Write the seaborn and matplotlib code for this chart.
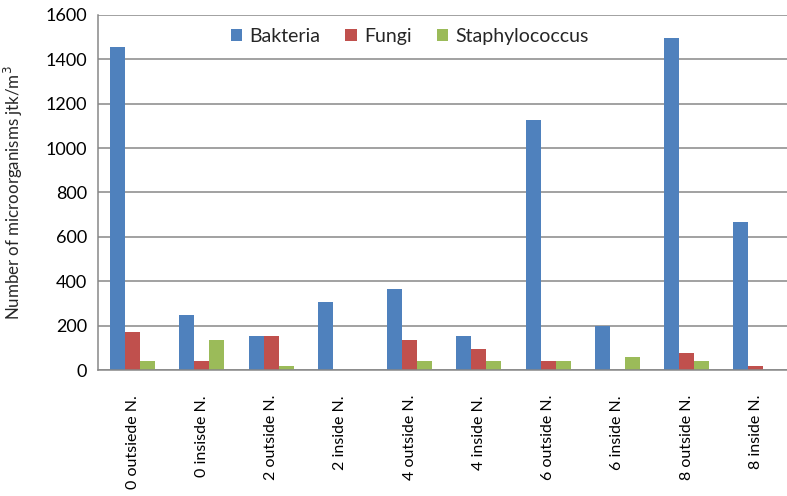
import matplotlib
matplotlib.use("Agg")
import matplotlib.pyplot as plt
import seaborn as sns
import pandas as pd

categories = ["0 outsiede N.", "0 insisde N.", "2 outside N.", "2 inside N.",
              "4 outside N.", "4 inside N.", "6 outside N.", "6 inside N.",
              "8 outside N.", "8 inside N."]
bakteria = [1455, 248, 153, 306, 364, 153, 1125, 200, 1495, 665]
fungi = [172, 40, 153, 0, 134, 96, 40, 0, 77, 20]
staphylococcus = [40, 134, 20, 0, 40, 40, 40, 60, 40, 0]
series_names = ["Bakteria", "Fungi", "Staphylococcus"]
colors = ["#4F81BD", "#C0504D", "#9BBB59"]
y_ticks = [0, 200, 400, 600, 800, 1000, 1200, 1400, 1600]

df = pd.DataFrame({
    "category": categories * 3,
    "value": bakteria + fungi + staphylococcus,
    "series": [s for s in series_names for _ in categories],
})

sns.set_theme(style="white")
plt.rcParams["font.family"] = ["Lato", "DejaVu Sans"]

fig = plt.figure(figsize=(7.87, 4.96), dpi=100)
ax = fig.add_axes([0.1245, 0.254, 0.88, 0.716])

sns.barplot(data=df, x="category", y="value", hue="series",
            palette=colors, width=0.65, saturation=1, ax=ax,
            edgecolor="none", linewidth=0, legend=True)

ax.set_ylim(0, 1600)
ax.set_xlim(-0.5, 9.5)
ax.set_yticks(y_ticks)
ax.set_yticklabels([str(t) for t in y_ticks], fontsize=13)
ax.yaxis.grid(True, color="#878787", linewidth=1.1)
ax.set_axisbelow(True)

# category boundary ticks on the x axis
ax.set_xticks([i for i in range(10)])
ax.set_xticklabels(categories, rotation=90, fontsize=11.5, va="top")
ax.tick_params(axis="x", length=0, pad=18)
ax.set_xticks([i - 0.5 for i in range(11)], minor=True)
ax.tick_params(axis="x", which="minor", length=5, color="#878787", width=1, direction="out")
ax.tick_params(axis="y", length=5, color="#878787", width=1, direction="out", pad=3)
ax.tick_params(axis="both", labelcolor="black")

for side in ["top", "right"]:
    ax.spines[side].set_visible(False)
for side in ["left", "bottom"]:
    ax.spines[side].set_color("#878787")
    ax.spines[side].set_linewidth(1.1)

ax.set_xlabel("")
ax.set_ylabel("Number of microorganisms jtk/m$^3$", fontsize=12.2)
ax.yaxis.set_label_coords(-0.105, 0.5)

leg = ax.legend(loc="upper center", bbox_to_anchor=(0.45, 0.985), ncol=3,
                frameon=True, fontsize=14, handlelength=0.6, handleheight=0.6,
                handletextpad=0.35, columnspacing=1.3, borderaxespad=0)
leg.get_frame().set_facecolor("white")
leg.get_frame().set_edgecolor("none")
leg.get_frame().set_alpha(1)

fig.savefig("out.png", dpi=100, facecolor="white")
